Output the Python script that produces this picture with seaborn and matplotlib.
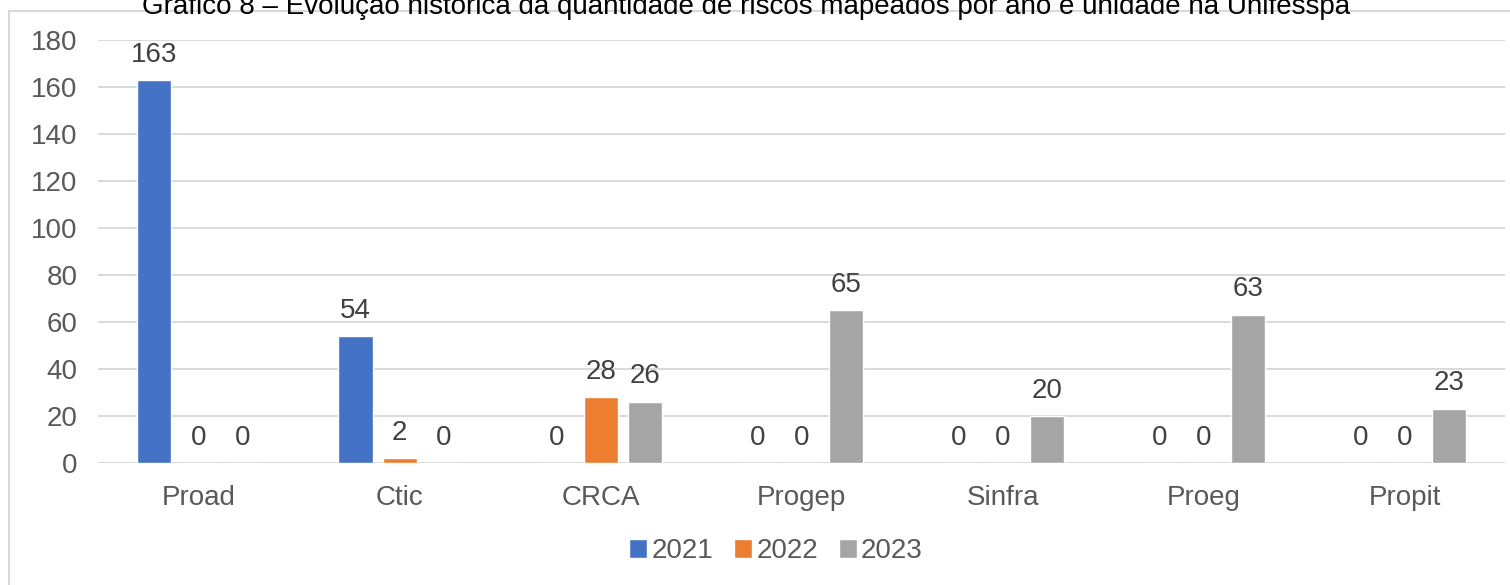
import pandas as pd
import matplotlib.pyplot as plt
import seaborn as sns
from matplotlib.patches import Rectangle

# dados
unidades = ["Proad", "Ctic", "CRCA", "Progep", "Sinfra", "Proeg", "Propit"]
anos = ["2021", "2022", "2023"]
v2021 = [163, 54, 0, 0, 0, 0, 0]
v2022 = [0, 2, 28, 0, 0, 0, 0]
v2023 = [0, 0, 26, 65, 20, 63, 23]
cores = ["#4472C4", "#ED7D31", "#A5A5A5"]
titulo = "Gráfico 8 – Evolução histórica da quantidade de riscos mapeados por ano e unidade na Unifesspa"

df = pd.DataFrame({
    "unidade": unidades * 3,
    "ano": [a for a in anos for _ in unidades],
    "valor": v2021 + v2022 + v2023,
})

sns.set_theme(style="white")
plt.rcParams["font.family"] = ["Liberation Sans", "DejaVu Sans"]

fig = plt.figure(figsize=(15.1, 5.85), dpi=100)
ax = fig.add_axes([0.065, 0.2085, 0.932, 0.723])

sns.barplot(data=df, x="unidade", y="valor", hue="ano", palette=cores,
            width=0.66, gap=0.23, ax=ax, saturation=1, legend=True)

for c in ax.containers:
    ax.bar_label(c, padding=9, fontsize=20, color="#404040")

ax.set_ylim(0, 180)
ax.set_yticks(range(0, 181, 20))
ax.yaxis.grid(True, color="#d9d9d9", linewidth=1.4)
ax.set_axisbelow(True)
for s in ax.spines.values():
    s.set_visible(False)
ax.tick_params(axis="y", labelsize=20, labelcolor="#595959", length=0, pad=15)
ax.tick_params(axis="x", labelsize=20, labelcolor="#595959", length=0, pad=16)
ax.set_xlabel("")
ax.set_ylabel("")
ax.set_xlim(-0.5, 6.5)

leg = ax.legend(loc="center", bbox_to_anchor=(0.514, 0.058), bbox_transform=fig.transFigure,
                ncol=3, frameon=False, fontsize=20, handlelength=0.65, handleheight=0.65,
                handletextpad=0.15, columnspacing=0.75)
for t in leg.get_texts():
    t.set_color("#595959")

fig.patches.append(Rectangle((9 / 1510, -0.1), 1.2, 1 - 11 / 585 + 0.1,
                             transform=fig.transFigure, fill=False,
                             edgecolor="#d9d9d9", linewidth=1.5))
fig.text(0.494, 0.988, titulo, ha="center", va="center", fontsize=20, color="black")

fig.savefig("out.png", dpi=100)
